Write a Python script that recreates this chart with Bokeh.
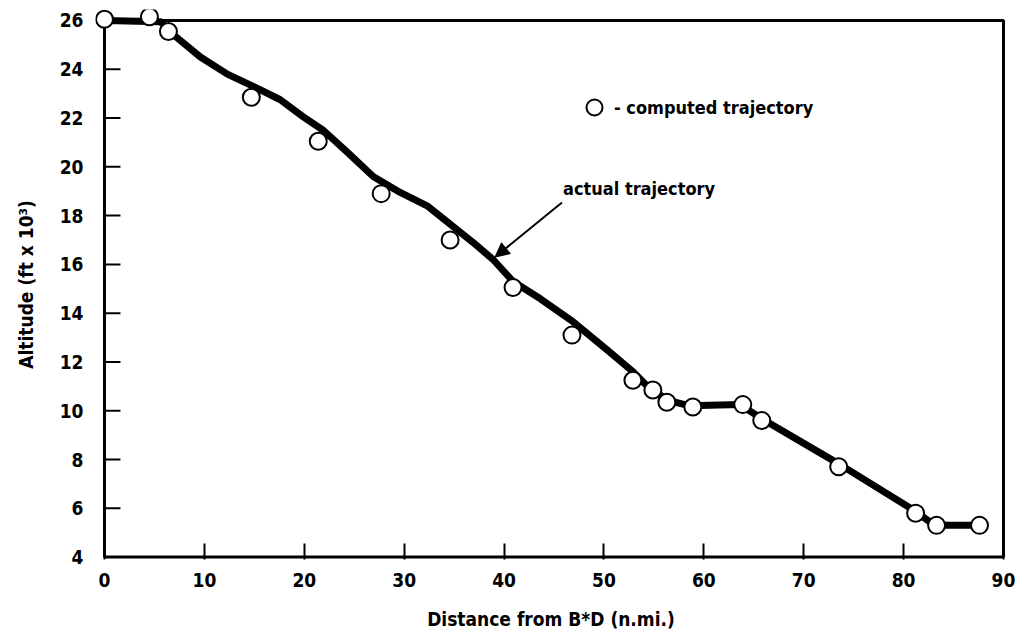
from bokeh.plotting import figure
from bokeh.models import (Range1d, FixedTicker, BoxAnnotation, Arrow, NormalHead,
                          Label, Legend, LegendItem, ColumnDataSource)
from bokeh.embed import file_html
from bokeh.resources import INLINE

# ---- data ----
actual_x = [0, 5.6, 7.1, 9.6, 12.3, 14.9, 17.6, 19.9, 21.9, 24.3, 26.9, 29.6, 32.3,
            34.3, 36.9, 38.9, 40.9, 43.6, 46.9, 50.3, 52.9, 54.6, 56.6, 58.6, 63.6,
            66.1, 73.6, 81.1, 83.1, 87.6]
actual_y = [26.0, 25.95, 25.35, 24.5, 23.8, 23.3, 22.75, 22.05, 21.5, 20.6, 19.6, 18.95,
            18.4, 17.75, 16.9, 16.2, 15.3, 14.6, 13.65, 12.5, 11.6, 10.9, 10.4, 10.2,
            10.25, 9.6, 7.8, 5.9, 5.3, 5.3]

computed_x = [0, 4.5, 6.4, 14.7, 21.4, 27.7, 34.6, 40.9, 46.8, 52.9, 54.9, 56.3, 58.9,
              63.9, 65.8, 73.5, 81.2, 83.3, 87.6]
computed_y = [26.05, 26.15, 25.55, 22.85, 21.05, 18.9, 17.0, 15.05, 13.1, 11.25, 10.85,
              10.35, 10.15, 10.25, 9.6, 7.7, 5.8, 5.3, 5.3]

x_ticks = [0, 10, 20, 30, 40, 50, 60, 70, 80, 90]
y_ticks = [4, 6, 8, 10, 12, 14, 16, 18, 20, 22, 24, 26]

x_label = "Distance from B*D (n.mi.)"
y_label = "Altitude (ft x 10³)"
legend_label = "- computed trajectory"
note_label = "actual trajectory"

FONT = "DejaVu Sans Condensed"

p = figure(width=1016, height=632, output_backend="svg", toolbar_location=None,
           x_range=Range1d(-0.9, 90.3), y_range=Range1d(3.9, 26.45),
           min_border_left=95, min_border_right=10, min_border_top=9,
           min_border_bottom=72)
p.outline_line_color = None
p.grid.visible = False
p.background_fill_color = "white"

# frame of the chart
frame = BoxAnnotation(left=x_ticks[0], right=x_ticks[-1], bottom=y_ticks[0], top=y_ticks[-1],
                      fill_alpha=0, line_color="black", line_alpha=1.0, line_width=3,
                      level="underlay")
p.add_layout(frame)

# axes
p.xaxis.ticker = FixedTicker(ticks=x_ticks)
p.yaxis.ticker = FixedTicker(ticks=y_ticks)
for ax in (p.xaxis, p.yaxis):
    ax.axis_line_color = None
    ax.major_tick_out = 0
    ax.minor_tick_line_color = None
    ax.major_tick_line_color = "black"
    ax.major_tick_line_width = 2
    ax.major_label_text_font = FONT
    ax.major_label_text_font_style = "bold"
    ax.major_label_text_font_size = "19px"
    ax.major_label_text_color = "black"
    ax.axis_label_text_font = FONT
    ax.axis_label_text_font_style = "bold"
    ax.axis_label_text_font_size = "19px"
    ax.axis_label_text_color = "black"
p.xaxis.major_tick_in = 16
p.yaxis.major_tick_in = 0
p.yaxis.major_tick_line_color = None
p.yaxis.major_label_standoff = 12
p.xaxis.major_label_standoff = 13
p.xaxis.axis_label = x_label
p.yaxis.axis_label = y_label
p.yaxis.axis_label_standoff = 20
p.xaxis.axis_label_standoff = 18

# inward y tick marks starting at the left axis line (x = 0)
n = len(y_ticks)
p.segment(x0=[x_ticks[0]] * n, y0=y_ticks, x1=[x_ticks[0] + 1.6] * n, y1=y_ticks,
          line_color="black", line_width=2)

# actual trajectory (thick line)
p.line(actual_x, actual_y, line_color="black", line_width=7, line_join="round",
       line_cap="round")

# computed trajectory (open circles)
src = ColumnDataSource(dict(x=computed_x, y=computed_y))
circ = p.scatter("x", "y", source=src, marker="circle", size=17, fill_color="white",
                 line_color="black", line_width=2)

legend = Legend(items=[LegendItem(label=legend_label, renderers=[circ])],
                location=(479, 432), glyph_width=40, glyph_height=40,
                label_standoff=0, padding=0, margin=0, spacing=0,
                border_line_color=None, background_fill_alpha=0,
                label_text_font=FONT, label_text_font_style="bold",
                label_text_font_size="18px", label_text_color="black")
p.add_layout(legend)

# annotation
p.add_layout(Arrow(end=NormalHead(size=14, fill_color="black", line_color="black"),
                   x_start=45.8, y_start=18.54, x_end=39.1, y_end=16.3,
                   line_color="black", line_width=2))
p.add_layout(Label(x=45.9, y=19.1, text=note_label, text_font=FONT,
                   text_font_style="bold", text_font_size="18px",
                   text_baseline="middle", text_align="left", text_color="black"))

open("out.html", "w").write(file_html(p, INLINE))
